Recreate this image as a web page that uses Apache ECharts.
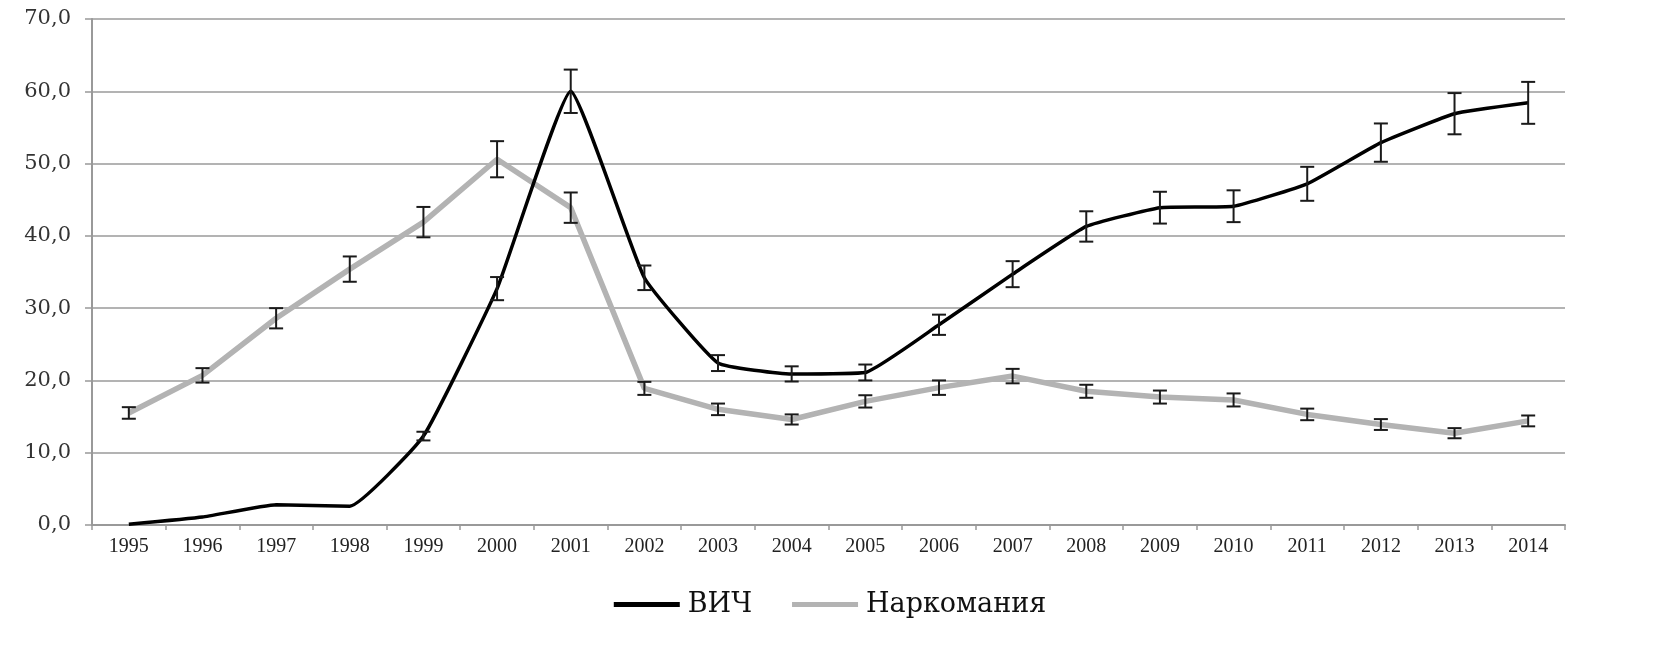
<!DOCTYPE html>
<html>
<head>
<meta charset="utf-8">
<script src="https://cdn.jsdelivr.net/npm/echarts@6/dist/echarts.min.js"></script>
<style>
html,body{margin:0;padding:0;background:#fff;}
#chart{width:1660px;height:650px;}
</style>
</head>
<body>
<div id="chart"></div>
<script>
const years = ['1995','1996','1997','1998','1999','2000','2001','2002','2003','2004','2005','2006','2007','2008','2009','2010','2011','2012','2013','2014'];
const hivValues = [0.1,1.1,2.8,2.6,12.3,32.7,60.0,34.2,22.4,20.9,21.1,27.7,34.7,41.3,43.9,44.1,47.2,52.9,56.9,58.4];
const hivErrors = [0,0,0,0,0.6,1.6,3.0,1.7,1.1,1.05,1.1,1.4,1.8,2.1,2.2,2.2,2.35,2.65,2.85,2.9];
const drugValues = [15.5,20.7,28.6,35.4,41.9,50.6,43.9,18.9,16.0,14.6,17.1,19.0,20.6,18.5,17.7,17.3,15.3,13.9,12.7,14.4];
const drugErrors = [0.8,1.0,1.4,1.75,2.1,2.5,2.1,0.9,0.8,0.7,0.85,1.0,1.0,0.9,0.9,0.9,0.8,0.75,0.7,0.75];
const yTicks = [0,10,20,30,40,50,60,70];
const seriesNames = ['ВИЧ','Наркомания'];

const FONT = '"Liberation Serif", "DejaVu Serif", serif';
const WIDE = '"DejaVu Serif", "Liberation Serif", serif';

function errorData(values, errors){
  return values.map((v,i)=>[i, v - errors[i], v + errors[i]]);
}
function renderError(params, api){
  const idx = api.value(0);
  const lo = api.coord([idx, api.value(1)]);
  const hi = api.coord([idx, api.value(2)]);
  if (Math.abs(hi[1]-lo[1]) < 1) return;
  const cap = 7;
  const style = {stroke:'#1a1a1a', lineWidth:2};
  return {
    type:'group',
    children:[
      {type:'line', shape:{x1:lo[0],y1:lo[1],x2:hi[0],y2:hi[1]}, style:style},
      {type:'line', shape:{x1:lo[0]-cap,y1:lo[1],x2:lo[0]+cap,y2:lo[1]}, style:style},
      {type:'line', shape:{x1:hi[0]-cap,y1:hi[1],x2:hi[0]+cap,y2:hi[1]}, style:style}
    ]
  };
}

const chart = echarts.init(document.getElementById('chart'));
chart.setOption({
  backgroundColor:'#fff',
  animation:false,
  grid:{left:92,right:95,top:19,bottom:125,containLabel:false},
  legend:{
    data:[
      {name:seriesNames[0], icon:'rect', itemStyle:{color:'#000'}},
      {name:seriesNames[1], icon:'rect', itemStyle:{color:'#b3b3b3'}}
    ],
    top:586,
    left:'center',
    itemWidth:66,
    itemHeight:5,
    itemGap:40,
    textStyle:{fontFamily:WIDE,fontSize:27,color:'#111',padding:[0,0,0,3]}
  },
  xAxis:{
    type:'category',
    data:years,
    boundaryGap:true,
    axisLine:{lineStyle:{color:'#999',width:2}},
    axisTick:{show:true,alignWithLabel:false,length:5,lineStyle:{color:'#999',width:1.5}},
    axisLabel:{interval:0,fontFamily:FONT,fontSize:20,color:'#222',margin:12}
  },
  yAxis:{
    type:'value',
    min:yTicks[0],
    max:yTicks[yTicks.length-1],
    interval:10,
    axisLine:{show:true,lineStyle:{color:'#999',width:2}},
    axisTick:{show:true,length:7,lineStyle:{color:'#999',width:1.5}},
    splitLine:{lineStyle:{color:'#9a9a9a',width:1.5}},
    axisLabel:{fontFamily:WIDE,fontSize:21,color:'#333',margin:21,
      formatter:v=>v.toFixed(1).replace('.',',')}
  },
  series:[
    {
      name:seriesNames[1],
      type:'line',
      data:drugValues,
      symbol:'none',
      z:2,
      lineStyle:{color:'#b3b3b3',width:5.5},
      itemStyle:{color:'#b3b3b3'}
    },
    {
      name:seriesNames[0],
      type:'line',
      data:hivValues,
      symbol:'none',
      smooth:0.12,
      z:3,
      lineStyle:{color:'#000',width:3.5},
      itemStyle:{color:'#000'}
    },
    {
      name:'errDrug',
      type:'custom',
      renderItem:renderError,
      data:errorData(drugValues,drugErrors),
      z:4,
      encode:{x:0,y:[1,2]}
    },
    {
      name:'errHiv',
      type:'custom',
      renderItem:renderError,
      data:errorData(hivValues,hivErrors),
      z:4,
      encode:{x:0,y:[1,2]}
    }
  ]
});
</script>
</body>
</html>
